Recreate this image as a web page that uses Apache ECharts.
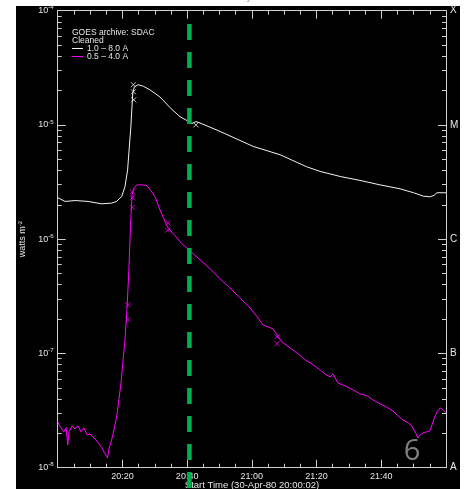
<!DOCTYPE html>
<html>
<head>
<meta charset="utf-8">
<script src="https://cdn.jsdelivr.net/npm/echarts@6/dist/echarts.min.js"></script>
<style>
  html, body { margin: 0; padding: 0; background: #fff; }
  #chart { width: 465px; height: 489px; }
</style>
</head>
<body>
<div id="chart"></div>
<script>
// GOES X-ray flux, 30-Apr-1980, minutes after 20:00 UT
const timeLong = [0, 2.3, 5.4, 9.4, 13.6, 16.7, 18.2, 19.8, 20.8, 21.6, 22.6, 23.2, 23.7, 24.8, 26.5,
  28.5, 31.6, 34.7, 37.8, 40.3, 41.5, 42.7, 44.0, 50.2, 60.4, 68.7, 76.9, 81.1, 87.3, 93.4, 99.6,
  105.8, 110, 113, 115.1, 116.3, 117.2, 120];
const fluxLong = [2.31e-6, 2.14e-6, 2.18e-6, 2.14e-6, 2.04e-6, 2.07e-6, 2.14e-6, 2.37e-6, 2.89e-6,
  4.05e-6, 9.6e-6, 1.91e-5, 2.15e-5, 2.25e-5, 2.18e-5, 2.03e-5, 1.76e-5, 1.42e-5, 1.18e-5, 1.08e-5,
  1.03e-5, 1.07e-5, 1.04e-5, 8.77e-6, 6.49e-6, 5.49e-6, 4.31e-6, 3.92e-6, 3.54e-6, 3.27e-6, 2.99e-6,
  2.76e-6, 2.55e-6, 2.38e-6, 2.35e-6, 2.42e-6, 2.55e-6, 2.55e-6];

const timeShort = [0, 1.0, 1.9, 2.6, 3.1, 3.5, 4.4, 5.3, 6.3, 7.2, 8.1, 9.1, 10.0, 10.9, 11.8, 12.8,
  13.7, 14.3, 14.9, 15.4, 15.9, 16.5, 17.1, 17.7, 18.3, 18.9, 19.6, 20.2, 20.8, 21.4, 22.0, 22.5,
  23.0, 23.6, 24.5, 26.0, 27.6, 28.8, 30.1, 31.6, 33.2, 34.1, 36.3, 38.4, 40.9, 44.0, 47.1, 50.2,
  53.2, 56.3, 59.4, 61.9, 63.4, 65.0, 66.5, 67.8, 69.3, 71.8, 74.3, 76.4, 78.6, 81.1, 82.9, 84.2,
  85.1, 86.6, 88.8, 91.3, 93.4, 95.6, 97.4, 99.6, 101.5, 103.6, 105.2, 106.7, 108.3, 109.4, 110.1,
  110.7, 111.3, 112.0, 112.9, 114.1, 115.0, 115.7, 116.3, 117.2, 118.2, 119.1, 120];
const fluxShort = [2.52e-8, 2.23e-8, 2.06e-8, 2.25e-8, 1.58e-8, 2.06e-8, 2.32e-8, 2.19e-8, 2.32e-8,
  2.06e-8, 2.23e-8, 1.94e-8, 1.97e-8, 1.86e-8, 1.75e-8, 1.61e-8, 1.49e-8, 1.37e-8, 1.29e-8, 1.22e-8,
  1.49e-8, 1.68e-8, 1.97e-8, 2.37e-8, 2.90e-8, 3.92e-8, 5.64e-8, 8.79e-8, 1.32e-7, 2.41e-7, 5.40e-7,
  1.34e-6, 2.45e-6, 2.82e-6, 2.99e-6, 2.99e-6, 2.94e-6, 2.66e-6, 2.35e-6, 1.81e-6, 1.42e-6, 1.26e-6,
  1.07e-6, 9.1e-7, 7.91e-7, 6.6e-7, 5.51e-7, 4.50e-7, 3.75e-7, 3.07e-7, 2.51e-7, 2.05e-7, 1.78e-7,
  1.71e-7, 1.64e-7, 1.45e-7, 1.26e-7, 1.12e-7, 9.9e-8, 8.79e-8, 8.1e-8, 7.18e-8, 6.50e-8, 6.24e-8,
  6.62e-8, 5.52e-8, 5.20e-8, 4.80e-8, 4.43e-8, 4.26e-8, 3.93e-8, 3.62e-8, 3.41e-8, 3.14e-8, 2.84e-8,
  2.62e-8, 2.47e-8, 2.32e-8, 2.14e-8, 2.0e-8, 1.82e-8, 1.94e-8, 2.02e-8, 2.06e-8, 2.10e-8, 2.37e-8,
  2.67e-8, 3.08e-8, 3.34e-8, 3.21e-8, 3.02e-8];

// flagged (cleaned) samples
const flagTimeLong = [23.4, 23.4, 23.5, 42.7];
const flagFluxLong = [2.25e-5, 1.95e-5, 1.66e-5, 1.0e-5];
const flagTimeShort = [21.7, 21.7, 23.1, 23.1, 23.1, 34.0, 34.0, 67.8, 67.8];
const flagFluxShort = [2.67e-7, 1.97e-7, 2.6e-6, 2.3e-6, 1.9e-6, 1.39e-6, 1.2e-6, 1.40e-7, 1.22e-7];

// marked time (minutes after 20:00)
const markerTime = 40.7;

const decades = [1e-8, 1e-7, 1e-6, 1e-5, 1e-4];
const classLetters = { '-8': 'A', '-7': 'B', '-6': 'C', '-5': 'M', '-4': 'X' };
const minorValues = [];
for (let e = -8; e < -4; e++) {
  for (let m = 2; m <= 9; m++) minorValues.push(m * Math.pow(10, e));
}

const FONT = 'Liberation Sans';
const AX = '#cfcfcf';
const TXT = '#e6e6e6';

function pairs(t, v) { return t.map((x, i) => [x, v[i]]); }
function expOf(v) { return Math.round(Math.log10(v)); }
function hhmm(m) {
  const h = 20 + Math.floor(m / 60);
  const mm = Math.round(m % 60);
  return h + ':' + (mm < 10 ? '0' : '') + mm;
}

const xMark = 'path://M0,0L10,10M10,0L0,10';

const chart = echarts.init(document.getElementById('chart'), null, { renderer: 'canvas' });

const xBase = {
  type: 'value', min: 0, max: 120, interval: 20,
  axisLine: { show: true, lineStyle: { color: AX, width: 1 } },
  axisTick: { show: true, inside: true, length: 8, lineStyle: { color: AX } },
  minorTick: { show: true, splitNumber: 4, length: 4, lineStyle: { color: AX } },
  splitLine: { show: false }, minorSplitLine: { show: false }
};

const yBase = {
  type: 'log', logBase: 10, min: 1e-8, max: 1e-4,
  splitLine: { show: false }
};

chart.setOption({
  animation: false,
  backgroundColor: '#ffffff',
  grid: { left: 57.7, right: 19, top: 10.7, bottom: 21.3, containLabel: false },
  xAxis: [
    Object.assign({}, xBase, {
      position: 'bottom',
      axisLabel: {
        show: true, color: TXT, fontFamily: FONT, fontSize: 9, margin: 4,
        showMinLabel: false, showMaxLabel: false,
        formatter: v => hhmm(v)
      }
    }),
    Object.assign({}, xBase, { position: 'top', axisLabel: { show: false } })
  ],
  yAxis: [
    Object.assign({}, yBase, {
      position: 'left',
      name: 'watts m{s|-2}',
      nameLocation: 'middle', nameRotate: 90, nameGap: 27,
      nameTextStyle: {
        color: TXT, fontFamily: FONT, fontSize: 9,
        rich: { s: { fontSize: 6, fontFamily: FONT, color: TXT, padding: [0, 0, 6, 0] } }
      },
      axisLine: { show: true, lineStyle: { color: AX } },
      axisTick: { show: true, inside: true, length: 8, customValues: decades, lineStyle: { color: AX } },
      axisLabel: {
        show: true, customValues: decades, margin: 4,
        color: TXT, fontFamily: FONT, fontSize: 9,
        formatter: v => '10{s|' + expOf(v) + '}',
        rich: { s: { fontSize: 6, fontFamily: FONT, color: TXT, padding: [0, 0, 6, 0] } }
      }
    }),
    Object.assign({}, yBase, {
      position: 'left',
      axisLine: { show: false },
      axisTick: { show: true, inside: true, length: 4, customValues: minorValues, lineStyle: { color: AX } },
      axisLabel: { show: false }
    }),
    Object.assign({}, yBase, {
      position: 'right',
      axisLine: { show: true, lineStyle: { color: AX } },
      axisTick: { show: true, inside: true, length: 8, customValues: decades, lineStyle: { color: AX } },
      axisLabel: {
        show: true, customValues: decades, margin: 4,
        color: TXT, fontFamily: FONT, fontSize: 10,
        formatter: v => classLetters[String(expOf(v))]
      }
    }),
    Object.assign({}, yBase, {
      position: 'right',
      axisLine: { show: false },
      axisTick: { show: true, inside: true, length: 4, customValues: minorValues, lineStyle: { color: AX } },
      axisLabel: { show: false }
    })
  ],
  series: [
    {
      name: '1.0 - 8.0 A', type: 'line', xAxisIndex: 0, yAxisIndex: 0,
      data: pairs(timeLong, fluxLong), showSymbol: false, smooth: false,
      lineStyle: { color: '#f2f2f2', width: 1 }, z: 3
    },
    {
      name: '0.5 - 4.0 A', type: 'line', xAxisIndex: 0, yAxisIndex: 0,
      data: pairs(timeShort, fluxShort), showSymbol: false, smooth: false,
      lineStyle: { color: '#ff00ff', width: 1 }, z: 3
    },
    {
      type: 'scatter', xAxisIndex: 0, yAxisIndex: 0,
      data: pairs(flagTimeLong, flagFluxLong), symbol: xMark, symbolSize: 5,
      itemStyle: { color: 'rgba(0,0,0,0)', borderColor: '#f2f2f2', borderWidth: 1 }, z: 4
    },
    {
      type: 'scatter', xAxisIndex: 0, yAxisIndex: 0,
      data: pairs(flagTimeShort, flagFluxShort), symbol: xMark, symbolSize: 5,
      itemStyle: { color: 'rgba(0,0,0,0)', borderColor: '#ff00ff', borderWidth: 1 }, z: 4
    }
  ]
});

// panel, title, legend and footer text
const markX = chart.convertToPixel({ xAxisIndex: 0 }, markerTime);
chart.setOption({
  graphic: [
    { type: 'rect', z: -100, silent: true,
      shape: { x: 16, y: 6, width: 444, height: 483 }, style: { fill: '#000' } },
    { type: 'text', x: 250, y: -8, z: 10, silent: true,
      style: { text: 'GOES Xray Flux 1 min', fill: '#9a9a9a', font: '10px ' + FONT, textAlign: 'center', textVerticalAlign: 'top' } },
    { type: 'text', x: 72, y: 28, z: 10, silent: true,
      style: { text: 'GOES archive: SDAC', fill: TXT, font: '8.5px ' + FONT } },
    { type: 'text', x: 72, y: 36.5, z: 10, silent: true,
      style: { text: 'Cleaned', fill: TXT, font: '8.5px ' + FONT } },
    { type: 'line', z: 10, silent: true, shape: { x1: 72, y1: 48.5, x2: 83, y2: 48.5 },
      style: { stroke: '#f2f2f2', lineWidth: 1 } },
    { type: 'text', x: 87, y: 44.5, z: 10, silent: true,
      style: { text: '1.0 \u2013 8.0 A', fill: TXT, font: '8.5px ' + FONT } },
    { type: 'line', z: 10, silent: true, shape: { x1: 72, y1: 56.5, x2: 83, y2: 56.5 },
      style: { stroke: '#ff00ff', lineWidth: 1 } },
    { type: 'text', x: 87, y: 52.5, z: 10, silent: true,
      style: { text: '0.5 \u2013 4.0 A', fill: TXT, font: '8.5px ' + FONT } },
    { type: 'text', x: 252, y: 480, z: 10, silent: true,
      style: { text: 'Start Time (30-Apr-80 20:00:02)', fill: TXT, font: '9.5px ' + FONT, textAlign: 'center' } },
    { type: 'line', z: 50, silent: true, shape: { x1: markX, y1: 24, x2: markX, y2: 489 },
      style: { stroke: '#00b050', lineWidth: 4.5, lineDash: [16, 12] } },
    { type: 'text', x: 412, y: 437, z: 10, silent: true,
      style: { text: '6', fill: '#7f7f7f', font: '29px "Open Sans"', textAlign: 'center' } }
  ]
});
</script>
</body>
</html>
